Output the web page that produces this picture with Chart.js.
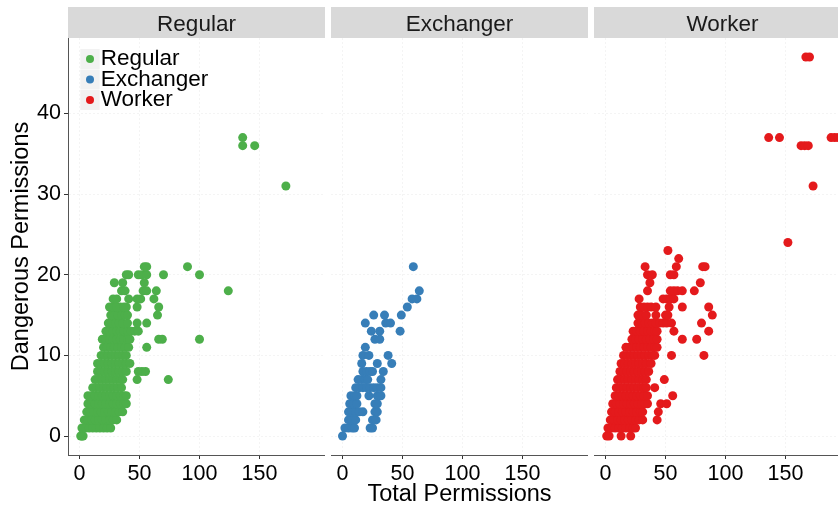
<!DOCTYPE html>
<html>
<head>
<meta charset="utf-8">
<script src="https://cdn.jsdelivr.net/npm/chart.js@4.4.0/dist/chart.umd.min.js"></script>
<style>
  html, body { margin: 0; padding: 0; background: #fff; overflow: hidden; }
  #wrap { position: relative; width: 838px; height: 506px; overflow: hidden; }
  canvas { position: absolute; top: 7px; }
</style>
</head>
<body>
<div id="wrap">
  <canvas id="canva1" width="325" height="499" style="left:0px"></canvas>
  <canvas id="canva2" width="257" height="499" style="left:331px"></canvas>
  <canvas id="canva3" width="257" height="499" style="left:594px"></canvas>
</div>
<script>
const Groups = ['Regular', 'Exchanger', 'Worker']
const xTicks = [0, 50, 100, 150]
const yTicks = [0, 10, 20, 30, 40]

// dangerous permission count per row, and the total permissions seen at that row
const regularDangerous = [0, 1, 2, 3, 4, 5, 6, 7, 8, 9, 10, 11, 12, 13, 14, 15, 16, 17, 18, 19, 20, 21, 31, 36, 37]
const regularTotals = [
    [1, 2, 3],
    [2, 5, 8, 11, 14, 17, 20, 23, 26],
    [4, 7, 10, 13, 16, 19, 22, 25, 28, 31],
    [6, 9, 12, 15, 18, 21, 24, 27, 30, 33, 36],
    [7, 10, 13, 16, 19, 22, 25, 28, 31, 34, 37, 39],
    [7, 10, 13, 16, 19, 22, 25, 28, 31, 34, 37, 39],
    [11, 14, 17, 20, 23, 26, 29, 32, 35],
    [13, 16, 19, 22, 25, 28, 31, 34, 36, 48, 74],
    [15, 18, 21, 24, 27, 30, 33, 36, 39, 49, 52, 55],
    [15, 18, 21, 24, 27, 30, 33, 36, 39, 42],
    [18, 21, 24, 27, 30, 33, 36, 39],
    [20, 23, 26, 29, 32, 35, 38, 41, 56],
    [19, 22, 25, 28, 31, 34, 37, 40, 42, 66, 69, 100],
    [22, 25, 28, 31, 34, 37, 40, 43, 46, 49],
    [24, 27, 30, 33, 36, 40, 48, 56],
    [26, 29, 32, 35, 38, 40, 65],
    [25, 28, 31, 34, 37, 39, 48, 66],
    [28, 31, 41, 48, 51, 62],
    [35, 38, 53, 56, 64, 124],
    [29, 36, 54],
    [39, 41, 49, 52, 56, 70, 100],
    [54, 56, 90],
    [172],
    [136, 146],
    [136]
]

const exchangerDangerous = [0, 1, 2, 3, 4, 5, 6, 7, 8, 9, 10, 11, 12, 13, 14, 15, 16, 17, 18, 21]
const exchangerTotals = [
    [0],
    [2, 5, 8, 10, 23, 25],
    [5, 8, 11, 25, 28],
    [5, 8, 11, 14, 17, 27, 29],
    [6, 9, 12, 27, 29],
    [7, 10, 12, 22, 29, 32],
    [11, 14, 17, 20, 23, 26, 29, 32],
    [13, 16, 19, 21, 32],
    [17, 20, 23, 25, 34],
    [16, 29, 41],
    [17, 22, 38],
    [19],
    [27, 31],
    [24, 31, 48],
    [19, 36, 40],
    [26, 35, 49],
    [54],
    [58, 62],
    [64],
    [59]
]

const workerDangerous = [0, 1, 2, 3, 4, 5, 6, 7, 8, 9, 10, 11, 12, 13, 14, 15, 16, 17, 18, 19, 20, 21, 22, 23, 24, 31, 36, 37, 47]
const workerTotals = [
    [1, 3, 13, 21],
    [2, 5, 8, 11, 14, 17, 20, 23, 25],
    [4, 7, 10, 13, 16, 19, 22, 25, 28, 31, 43],
    [5, 8, 11, 14, 17, 20, 23, 26, 29, 31, 44],
    [6, 9, 12, 15, 18, 21, 24, 27, 30, 33, 35, 46, 51],
    [8, 11, 14, 17, 20, 23, 26, 29, 32, 35, 56],
    [9, 12, 15, 18, 21, 24, 27, 30, 32, 34, 41],
    [10, 13, 16, 19, 22, 25, 28, 31, 34, 49],
    [12, 15, 18, 21, 24, 27, 30, 33, 36],
    [13, 16, 19, 22, 25, 28, 31, 34, 38],
    [15, 18, 21, 24, 27, 30, 33, 36, 39, 41, 55, 82],
    [17, 20, 23, 26, 29, 32, 35, 38, 41, 43],
    [22, 25, 28, 31, 34, 37, 40, 43, 64, 76],
    [23, 26, 29, 32, 35, 38, 41, 43, 57, 86],
    [27, 30, 33, 36, 39, 42, 45, 48, 51, 55, 80],
    [27, 30, 34, 42, 50, 52, 89],
    [29, 32, 35, 38, 42, 53, 64, 86],
    [28, 48, 51, 54, 57],
    [35, 54, 57, 60, 64, 74],
    [37, 79],
    [35, 39, 54, 57],
    [33, 59, 81, 83],
    [61],
    [52],
    [152],
    [173],
    [163, 166, 169],
    [136, 145, 188, 191, 194],
    [167, 170]
]

const Colors = ['#4DAF4A', '#377EB8', '#E41A1C']
const fontName = "'Liberation Sans', Arial, sans-serif"
const legendFont = 22.5
const legendGap = -2

function toPoints(dangerous, totals) {
    const pts = []
    dangerous.forEach((d, i) => totals[i].forEach(t => pts.push({ x: t, y: d })))
    return pts
}

const groupPoints = [
    toPoints(regularDangerous, regularTotals),
    toPoints(exchangerDangerous, exchangerTotals),
    toPoints(workerDangerous, workerTotals)
]

// grey strip behind each facet title
const stripBg = {
    id: 'stripBg',
    beforeDraw(chart) {
        const t = chart.titleBlock
        const c = chart.ctx
        c.save()
        c.fillStyle = '#D9D9D9'
        c.fillRect(t.left, t.top, t.width, t.height)
        c.restore()
    }
}

// legend sits in the top-left corner of the plot; keys (grey square + dot) painted here
const legendKeys = {
    id: 'legendKeys',
    afterLayout(chart) {
        const lg = chart.legend
        if (!lg || !lg.options.display) return
        const ca = chart.chartArea
        lg.left = ca.left + 12
        lg.right = ca.right
        lg.top = ca.top + 11.75
        lg.bottom = ca.bottom
    },
    beforeDraw(chart) {
        const lg = chart.legend
        if (!lg || !lg.options.display) return
        const c = chart.ctx
        c.save()
        lg.legendItems.forEach((item, i) => {
            const cx = lg.left + 10
            const cy = lg.top + legendGap + i * (legendFont + legendGap) + legendFont / 2
            c.fillStyle = '#F2F2F2'
            c.fillRect(cx - 9.7, cy - 10, 19.4, 20)
            c.fillStyle = Colors[i]
            c.beginPath()
            c.arc(cx, cy, 4, 0, Math.PI * 2)
            c.fill()
        })
        c.restore()
    }
}

function makeChart(canvasId, idx) {
    const first = idx === 0
    return new Chart(document.getElementById(canvasId).getContext('2d'), {
        type: 'scatter',
        data: {
            datasets: [{
                label: Groups[idx],
                data: groupPoints[idx],
                backgroundColor: Colors[idx],
                borderColor: Colors[idx],
                pointRadius: 4.5,
                pointHoverRadius: 4.5,
                pointBorderWidth: 0,
            }]
        },
        options: {
            responsive: false,
            animation: false,
            events: [],
            layout: { padding: 0, autoPadding: false },
            scales: {
                x: {
                    type: 'linear',
                    min: -9.6,
                    max: 204.6,
                    afterBuildTicks: axis => { axis.ticks = xTicks.map(v => ({ value: v })) },
                    afterFit: axis => { axis.height = 51 },
                    grid: { color: '#F4F4F4', lineWidth: 1, drawTicks: true, tickLength: 4, tickColor: '#333333', tickWidth: 1 },
                    border: { display: true, color: '#555555', width: 1, dash: [2, 2] },
                    ticks: { color: '#000', padding: 2, maxRotation: 0, autoSkip: false, font: { family: fontName, size: 21.5 } },
                    title: {
                        display: idx === 1,
                        text: 'Total Permissions',
                        color: '#000',
                        font: { family: fontName, size: 23.5, lineHeight: 1 },
                        padding: { top: 0, bottom: 0 }
                    }
                },
                y: {
                    min: -2.35,
                    max: 49.35,
                    afterBuildTicks: axis => { axis.ticks = yTicks.map(v => ({ value: v })) },
                    afterFit: axis => { axis.width = first ? 68 : 0 },
                    grid: { color: '#F4F4F4', lineWidth: 1, drawTicks: first, tickLength: 4, tickColor: '#333333', tickWidth: 1 },
                    border: { display: first, color: '#555555', width: 1, dash: [2, 2] },
                    ticks: { display: first, color: '#000', padding: 3, font: { family: fontName, size: 21.5 } },
                    title: {
                        display: first,
                        text: 'Dangerous Permissions',
                        color: '#000',
                        font: { family: fontName, size: 23.5, lineHeight: 1 },
                        padding: { top: 10, bottom: 0 }
                    }
                }
            },
            plugins: {
                title: {
                    display: true,
                    text: Groups[idx],
                    fullSize: false,
                    color: '#1A1A1A',
                    font: { family: fontName, size: 22.5, weight: 'normal' },
                    padding: { top: 4, bottom: 0 }
                },
                legend: {
                    display: first,
                    position: 'chartArea',
                    align: 'start',
                    labels: {
                        usePointStyle: true,
                        boxWidth: 11.4,
                        boxHeight: 0,
                        padding: legendGap,
                        color: '#000',
                        font: { family: fontName, size: legendFont },
                        generateLabels: () => Groups.map((g, i) => ({
                            text: g,
                            fillStyle: 'rgba(0,0,0,0)',
                            strokeStyle: 'rgba(0,0,0,0)',
                            lineWidth: 0,
                            pointStyle: 'circle',
                            hidden: false,
                            datasetIndex: 0,
                            fontColor: '#000'
                        }))
                    }
                },
                tooltip: { enabled: false }
            }
        },
        plugins: [stripBg, legendKeys]
    })
}

const myChart1 = makeChart('canva1', 0)
const myChart2 = makeChart('canva2', 1)
const myChart3 = makeChart('canva3', 2)
</script>
</body>
</html>
